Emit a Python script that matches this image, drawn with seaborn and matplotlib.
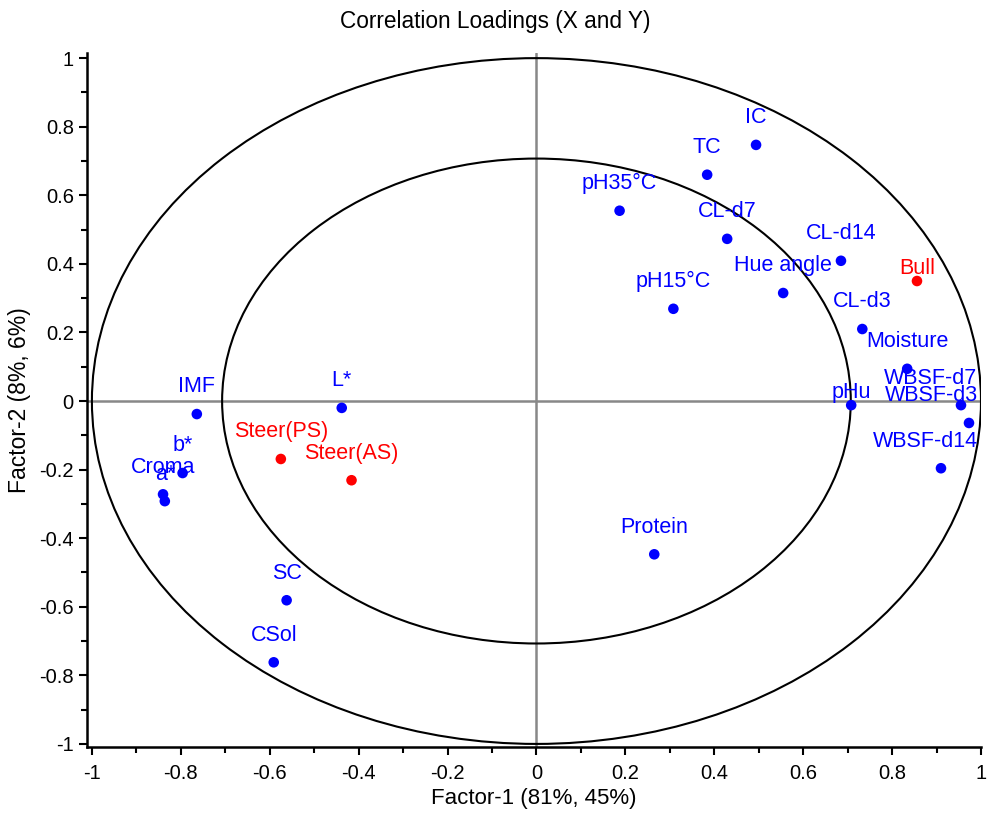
import matplotlib
matplotlib.use("Agg")
import matplotlib.pyplot as plt
from matplotlib.patches import Circle
from matplotlib.ticker import MultipleLocator
import seaborn as sns
import pandas as pd
import numpy as np

# loadings
names = ["IC", "TC", "pH35°C", "CL-d7", "CL-d14", "Hue angle", "pH15°C", "CL-d3",
         "Moisture", "pHu", "WBSF-d7", "WBSF-d3", "WBSF-d14", "Protein",
         "L*", "IMF", "b*", "Croma", "a*", "SC", "CSol",
         "Bull", "Steer(PS)", "Steer(AS)"]
factor1 = [0.494, 0.384, 0.187, 0.429, 0.685, 0.555, 0.308, 0.733,
           0.834, 0.708, 0.955, 0.973, 0.910, 0.265,
           -0.438, -0.764, -0.796, -0.840, -0.836, -0.562, -0.591,
           0.856, -0.575, -0.416]
factor2 = [0.747, 0.660, 0.555, 0.473, 0.409, 0.315, 0.269, 0.210,
           0.094, -0.012, -0.012, -0.064, -0.196, -0.447,
           -0.020, -0.038, -0.210, -0.272, -0.292, -0.581, -0.762,
           0.350, -0.169, -0.231]
block = ["X"] * 21 + ["Y"] * 3

df = pd.DataFrame({"name": names, "f1": factor1, "f2": factor2, "block": block})

# label offsets in points (default is straight above the dot)
label_offset = {
    "Bull": (0, 9),
    "pHu": (0, 9),
    "WBSF-d7": (-22, 19.5),
    "WBSF-d3": (-27, 19.5),
    "WBSF-d14": (-11, 19.5),
}

sns.set_style("ticks")
plt.rcParams["font.family"] = ["Liberation Sans", "DejaVu Sans"]
plt.rcParams.update({"text.color": "black", "axes.labelcolor": "black",
                     "xtick.color": "black", "ytick.color": "black",
                     "axes.edgecolor": "black"})

fig = plt.figure(figsize=(9.9, 8.14), dpi=100)
ax = fig.add_axes([0.0879, 0.0823, 0.9030, 0.8526])

# circles at r=1 and r=sqrt(0.5)
for r in [1.0, np.sqrt(0.5)]:
    ax.add_patch(Circle((0, 0), r, fill=False, color="black", lw=1.5, zorder=1))
ax.axhline(0, color="#888888", lw=1.8, zorder=0)
ax.axvline(0, color="#888888", lw=1.8, zorder=0)

sns.scatterplot(data=df, x="f1", y="f2", hue="block",
                palette={"X": "#0000FF", "Y": "#FF0000"},
                s=58, edgecolor="none", legend=False, ax=ax, zorder=3)

for _, row in df.iterrows():
    off = label_offset.get(row["name"], (0, 19.5))
    ax.annotate(row["name"], (row["f1"], row["f2"]), xytext=off,
                textcoords="offset points", ha="center", va="center",
                fontsize=15.5, color="#0000FF" if row["block"] == "X" else "#FF0000",
                zorder=4)

ax.set_xlim(-1.011, 1.0)
ax.set_ylim(-1.009, 1.015)
ax.xaxis.set_major_locator(MultipleLocator(0.2))
ax.xaxis.set_minor_locator(MultipleLocator(0.1))
ax.yaxis.set_major_locator(MultipleLocator(0.2))
ax.yaxis.set_minor_locator(MultipleLocator(0.1))
fmt = lambda v, p: "0" if abs(v) < 1e-9 else ("%g" % round(v, 1))
ax.xaxis.set_major_formatter(fmt)
ax.yaxis.set_major_formatter(fmt)
ax.tick_params(which="major", length=6, width=1.5, labelsize=14.5, direction="out")
ax.tick_params(axis="x", which="major", pad=6)
ax.tick_params(which="minor", length=4, width=1.5, direction="out")
for s in ["top", "right"]:
    ax.spines[s].set_visible(False)
for s in ["left", "bottom"]:
    ax.spines[s].set_linewidth(1.8)

ax.set_xlabel("Factor-1 (81%, 45%)", fontsize=16, labelpad=4)
ax.set_ylabel("Factor-2 (8%, 6%)", fontsize=16.5, labelpad=6)
fig.suptitle("Correlation Loadings (X and Y)", fontsize=16.3, y=0.988)

fig.savefig("out.png", dpi=100)
